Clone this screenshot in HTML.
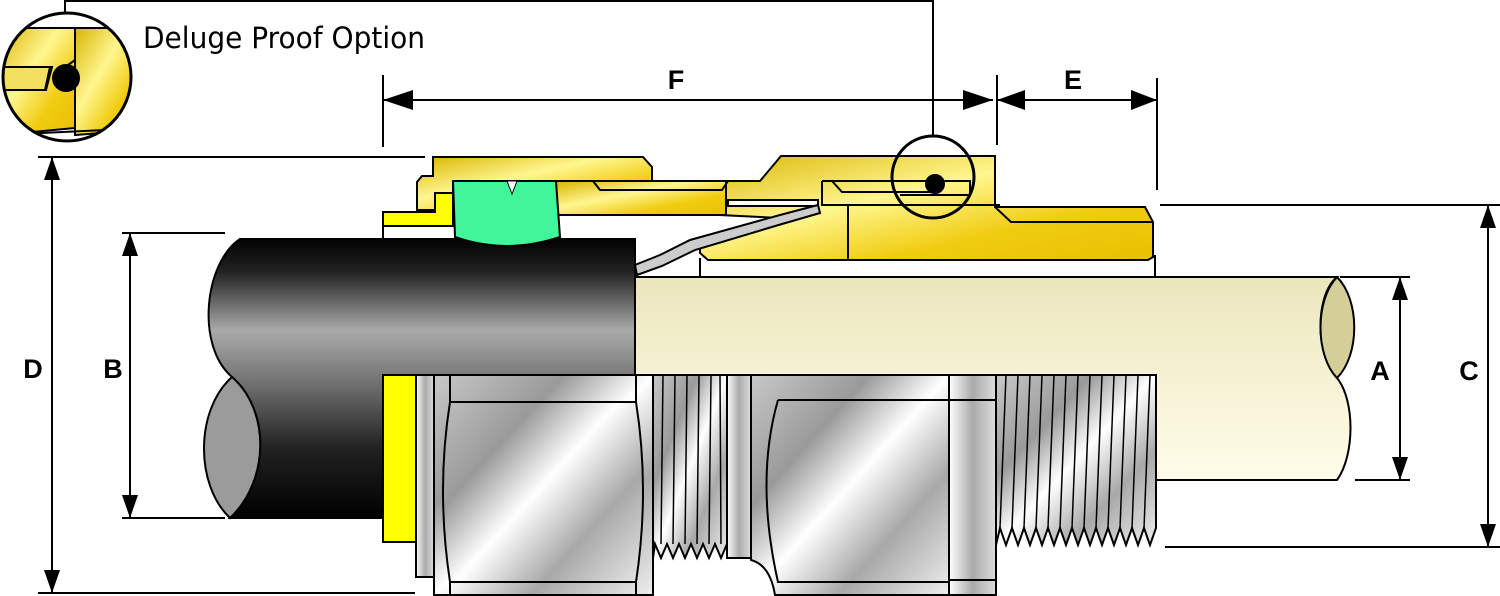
<!DOCTYPE html>
<html><head><meta charset="utf-8"><style>body{margin:0;background:#fff}svg{display:block}</style></head><body>
<svg width="1500" height="596" viewBox="0 0 1500 596" xmlns="http://www.w3.org/2000/svg" font-family="Liberation Sans, sans-serif">
<defs>
<linearGradient id="brass" x1="0" y1="0" x2="1" y2="1">
<stop offset="0" stop-color="#d9b400"/><stop offset="0.4" stop-color="#fff690"/><stop offset="0.7" stop-color="#f0cc10"/><stop offset="1" stop-color="#e8c000"/></linearGradient>
<linearGradient id="blk" x1="0" y1="238" x2="0" y2="518" gradientUnits="userSpaceOnUse">
<stop offset="0" stop-color="#000"/><stop offset="0.12" stop-color="#222"/><stop offset="0.33" stop-color="#aaa"/><stop offset="0.5" stop-color="#777"/><stop offset="0.75" stop-color="#222"/><stop offset="1" stop-color="#000"/></linearGradient>
<linearGradient id="cream" x1="0" y1="0" x2="0" y2="1">
<stop offset="0" stop-color="#ece6bd"/><stop offset="1" stop-color="#fffdea"/></linearGradient>
<linearGradient id="metal" x1="0" y1="0" x2="1" y2="1">
<stop offset="0" stop-color="#c8c8c8"/><stop offset="0.3" stop-color="#9a9a9a"/><stop offset="0.5" stop-color="#fff"/><stop offset="0.72" stop-color="#a8a8a8"/><stop offset="1" stop-color="#eee"/></linearGradient>
<linearGradient id="metalv" x1="0" y1="0" x2="1" y2="0">
<stop offset="0" stop-color="#fff"/><stop offset="0.5" stop-color="#aaa"/><stop offset="1" stop-color="#ddd"/></linearGradient>
</defs>
<g stroke="#000" stroke-width="2">
<path d="M635,277 H1337 C1315,295 1315,355 1337,378 C1355,400 1355,455 1337,480 H635 Z" fill="url(#cream)"/>
<path d="M1337,277 C1360,300 1360,355 1337,378 C1315,355 1315,300 1337,277Z" fill="#d4cf98"/>
<path d="M700,258 V278 M1155,255 V278 M383,226 V238" fill="none"/>
<path d="M240,239 C205,262 195,345 232,377 C270,410 270,480 230,518 H383 V375 H635 V239 Z" fill="url(#blk)"/>
<path d="M232,377 C195,410 195,485 230,518 C270,480 270,410 232,377 Z" fill="#9b9b9b"/>
<path d="M720,181 L760,181 L781,156 L995,156 L995,207 L1145,207 L1153,222 L1153,257 L1148,260 L708,260 L700,253 L700,243 L780,218 L720,215 Z" fill="url(#brass)"/>
<path d="M995,207 L1011,222 L1153,222 M848,206 V260 M822,181 V205 L1000,205" fill="none"/>
<rect x="556" y="181" width="170" height="34" fill="url(#brass)"/>
<path d="M593,181 L600,190 H722 L728,181" fill="none"/>
<path d="M417,182 L422,176 L433,176 L433,157 L643,157 L652,167 L652,181 L453,181 L453,193 L435,193 L435,210 L417,210 Z" fill="url(#brass)"/>
<path d="M383,212 L435,212 L435,193 L453,193 L453,226 L383,226 Z" fill="#ffff00"/>
<rect x="728" y="200" width="90" height="6" fill="#fff"/>
<path d="M822,181 L832,181 L842,192 L935,192 M822,181 H970 V195 H900" fill="none"/>
<path d="M453,181 L556,181 L560,237 Q506,255 455,237 Z" fill="#40f59a"/>
<path d="M507,181 L512,194 L517,181 Z" fill="#fff" stroke-width="1"/>
<path d="M635,265 L660,255 L690,240 L780,215 L818,205 L820,213 L782,224 L695,250 L662,266 L637,275 Z" fill="#ccc"/>
<circle cx="935" cy="184" r="9" fill="#000"/>
<circle cx="933" cy="177" r="41" fill="none" stroke-width="3"/>
<rect x="383" y="375" width="33" height="167" fill="#ffff00"/>
<rect x="416" y="375" width="18" height="202" fill="url(#metalv)"/>
<rect x="434" y="375" width="219" height="220" fill="url(#metal)"/>
<path d="M450,402 H636 Q650,490 636,582 H450 Q436,490 450,402 Z M450,375 V402 M636,375 V402 M450,582 V595 M636,582 V595" fill="url(#metal)"/>
<path d="M653,375 H727 V544 L721,558 L715,544 L709,558 L703,544 L697,558 L691,544 L685,558 L679,544 L673,558 L667,544 L661,558 L655,544 L653,558 Z" fill="url(#metal)"/>
<path d="M663,375 L661,544 M675,375 L673,544 M687,375 L685,544 M699,375 L697,544 M711,375 L709,544 M720,375 L721,544" fill="none" stroke-width="1.5"/>
<rect x="727" y="375" width="24" height="183" fill="url(#metalv)"/>
<path d="M751,375 H949 V595 H775 Q770,565 751,560 Z" fill="url(#metal)"/>
<path d="M778,400 H949 M778,400 Q755,480 778,582 H949" fill="none"/>
<rect x="949" y="375" width="47" height="220" fill="url(#metalv)"/>
<path d="M949,400 H996 M949,580 H996" fill="none"/>
<path d="M996,375 H1156 V528 L1150,545 L1144,528 L1138,545 L1132,528 L1126,545 L1120,528 L1114,545 L1108,528 L1102,545 L1096,528 L1090,545 L1084,528 L1078,545 L1072,528 L1066,545 L1060,528 L1054,545 L1048,528 L1042,545 L1036,528 L1030,545 L1024,528 L1018,545 L1012,528 L1006,545 L1000,528 L996,545 Z" fill="url(#metal)"/>
<path d="M1006,375 L1000,528 M1018,375 L1012,528 M1030,375 L1024,528 M1042,375 L1036,528 M1054,375 L1048,528 M1066,375 L1060,528 M1078,375 L1072,528 M1090,375 L1084,528 M1102,375 L1096,528 M1114,375 L1108,528 M1126,375 L1120,528 M1138,375 L1132,528 M1150,375 L1144,528" fill="none" stroke-width="1.5"/>
</g>
<g stroke="#000" stroke-width="2">
<clipPath id="cc"><circle cx="67" cy="77" r="63"/></clipPath>
<g clip-path="url(#cc)">
<rect x="0" y="0" width="140" height="160" fill="#fff" stroke="none"/>
<path d="M0,28 H75 V128 L0,135 Z" fill="url(#brass)"/>
<path d="M75,28 H140 V130 L75,135 Z" fill="url(#brass)"/>
<path d="M0,28 H100 M0,135 L105,130 M75,28 V90 M0,67 H52 L46,90 H0 M75,60 L68,65" fill="none"/>
<path d="M0,67 H50 L45,90 H0Z" fill="#f3df60"/>
<circle cx="66" cy="78" r="13" fill="#000"/>
</g>
<circle cx="67" cy="77" r="64" fill="none" stroke-width="3"/>
</g>
<g stroke="#000" stroke-width="2" fill="none">
<path d="M65,14 V1 H933 V136"/>
<path d="M383,75 V147 M383,100 H993 M997,75 V145 M997,100 H1157 M1157,78 V190"/>
<path d="M38,157 H425 M38,593 H415 M52,157 V593"/>
<path d="M122,233 H225 M122,518 H225 M130,233 V518"/>
<path d="M1340,277 H1410 M1355,480 H1410 M1400,277 V480"/>
<path d="M1160,205 H1500 M1165,547 H1500 M1488,205 V547"/>
</g>
<g fill="#000">
<path d="M383,100 L413,90 L413,110Z"/><path d="M993,100 L963,90 L963,110Z"/>
<path d="M997,100 L1025,90 L1025,110Z"/><path d="M1157,100 L1131,90 L1131,110Z"/>
<path d="M52,157 L44,180 L60,180Z"/><path d="M52,593 L44,570 L60,570Z"/>
<path d="M130,233 L122,256 L138,256Z"/><path d="M130,518 L122,495 L138,495Z"/>
<path d="M1400,277 L1392,300 L1408,300Z"/><path d="M1400,480 L1392,457 L1408,457Z"/>
<path d="M1488,205 L1480,228 L1496,228Z"/><path d="M1488,547 L1480,524 L1496,524Z"/>
</g>
<g font-size="27" font-weight="bold" text-anchor="middle">
<text x="676" y="89">F</text><text x="1073" y="89">E</text>
<text x="33" y="378">D</text><text x="113" y="378">B</text>
<text x="1380" y="380">A</text><text x="1469" y="380">C</text>
</g>
<text x="143" y="48" font-size="29" font-family="DejaVu Sans, sans-serif" textLength="282" lengthAdjust="spacingAndGlyphs">Deluge Proof Option</text>
</svg>
</body></html>
